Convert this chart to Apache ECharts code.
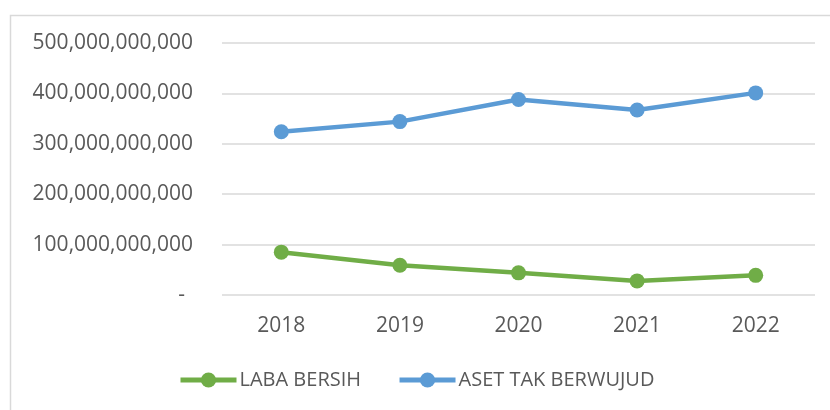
<!DOCTYPE html>
<html lang="en">
<head>
  <meta charset="UTF-8">
  <title>Laba Bersih vs Aset Tak Berwujud</title>
  <script src="https://cdn.jsdelivr.net/npm/echarts@6/dist/echarts.min.js"></script>
  <style>
    html, body { margin: 0; padding: 0; background: #fff; }
  </style>
</head>
<body>
<div id="chart" style="width: 830px; height: 410px"></div>
<script>
  const years = ['2018', '2019', '2020', '2021', '2022'];
  const labaBersih = [85e9, 59e9, 44e9, 28e9, 39e9];
  const asetTakBerwujud = [324e9, 344e9, 388e9, 367e9, 401e9];

  const font = "'Open Sans', sans-serif";
  const textColor = '#595959';

  function formatNumber(v) {
    if (v === 0) return '{d|-}';
    return String(v).replace(/\B(?=(\d{3})+(?!\d))/g, ',');
  }

  const chart = echarts.init(document.getElementById('chart'));
  chart.setOption({
    animation: false,
    textStyle: { fontFamily: font },
    graphic: [{
      type: 'rect',
      left: 8, top: 13,
      shape: { width: 840, height: 420 },
      style: { fill: 'none', stroke: '#d9d9d9', lineWidth: 1.5 },
      silent: true
    }],
    grid: { left: 222, right: 15, top: 43, bottom: 115 },
    legend: {
      left: 178,
      top: 370,
      padding: 0,
      itemWidth: 56,
      itemHeight: 19,
      itemGap: 36,
      lineStyle: { width: 5 },
      textStyle: { color: textColor, fontSize: 20, fontFamily: font, padding: [0, 0, 0, -2] },
      data: ['LABA BERSIH', 'ASET TAK BERWUJUD']
    },
    xAxis: {
      type: 'category',
      data: years,
      axisLine: { show: false },
      axisTick: { show: false },
      axisLabel: { color: textColor, fontSize: 21, margin: 21 }
    },
    yAxis: {
      type: 'value',
      min: 0,
      max: 500e9,
      interval: 100e9,
      axisLine: { show: false },
      axisTick: { show: false },
      axisLabel: {
        color: textColor,
        fontSize: 21,
        margin: 29,
        formatter: formatNumber,
        rich: { d: { color: textColor, fontSize: 21, padding: [0, 8, 0, 0] } }
      },
      splitLine: { lineStyle: { color: '#d9d9d9', width: 1.5 } }
    },
    series: [
      {
        name: 'LABA BERSIH',
        type: 'line',
        data: labaBersih,
        color: '#70ad47',
        symbol: 'circle',
        symbolSize: 15,
        lineStyle: { width: 4.5 }
      },
      {
        name: 'ASET TAK BERWUJUD',
        type: 'line',
        data: asetTakBerwujud,
        color: '#5b9bd5',
        symbol: 'circle',
        symbolSize: 15,
        lineStyle: { width: 4.5 }
      }
    ]
  });
</script>
</body>
</html>
